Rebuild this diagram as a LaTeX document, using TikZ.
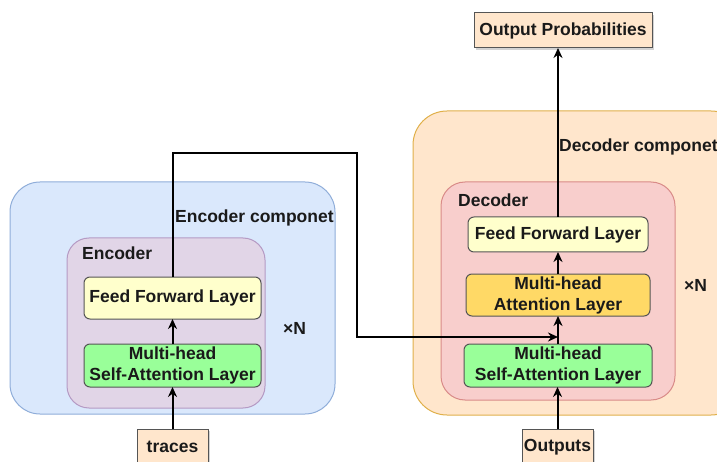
\documentclass[tikz,border=0pt]{standalone}
\usepackage{fontspec}
\setmainfont{Liberation Sans}
\usetikzlibrary{arrows.meta,shadows}
\definecolor{encfill}{HTML}{DAE8FC}
\definecolor{encline}{HTML}{8FADD9}
\definecolor{encinfill}{HTML}{E1D5E7}
\definecolor{encinline}{HTML}{B59AC4}
\definecolor{decfill}{HTML}{FFE6CC}
\definecolor{decline}{HTML}{E0B04A}
\definecolor{decinfill}{HTML}{F8CECC}
\definecolor{decinline}{HTML}{D98B88}
\definecolor{fffill}{HTML}{FFFFCC}
\definecolor{safill}{HTML}{99FF99}
\definecolor{mhafill}{HTML}{FFD966}
\definecolor{boxline}{HTML}{555555}
\definecolor{iofill}{HTML}{FFE6CC}
\definecolor{txt}{HTML}{1A1A1A}
\tikzset{
  container/.style={draw, line width=1pt, inner sep=0pt, outer sep=0pt},
  layerbox/.style={draw=boxline, line width=1pt, rounded corners=6pt, inner sep=0pt, outer sep=0pt, align=center, text=txt, font=\bfseries\fontsize{17.5}{21}\selectfont},
  iobox/.style={draw=boxline, fill=iofill, line width=1pt, inner sep=0pt, outer sep=0pt, text=txt, font=\bfseries\fontsize{17.5}{21}\selectfont, drop shadow={shadow xshift=2pt, shadow yshift=-2pt, opacity=0.35}},
  lbl/.style={inner sep=0pt, anchor=west, text=txt, font=\bfseries\fontsize{17.5}{21}\selectfont},
  flow/.style={line width=2pt, -{Stealth[length=10pt,width=9pt]}},
}
\begin{document}
\begin{tikzpicture}[x=1pt,y=-1pt]
\useasboundingbox (0,0) rectangle (717,462);
\clip (0,0) rectangle (717,462);
% containers
\node[container, draw=encline, fill=encfill, rounded corners=30pt, minimum width=325pt, minimum height=232pt] (encouter) at (172.5,298) {};
\node[container, draw=encinline, fill=encinfill, rounded corners=22pt, minimum width=198pt, minimum height=170pt] (encinner) at (166,323) {};
\node[container, draw=decline, fill=decfill, rounded corners=34pt, minimum width=332pt, minimum height=304pt] (decouter) at (579,263) {};
\node[container, draw=decinline, fill=decinfill, rounded corners=24pt, minimum width=234pt, minimum height=218pt] (decinner) at (558,291) {};
% labels
\node[lbl] (enclbl) at (82,253) {Encoder};
\node[lbl] (enccomp) at (175,218) {Encoder componet};
\node[lbl] (encN) at (283,328) {×N};
\node[lbl] (declbl) at (458,200) {Decoder};
\node[lbl] (deccomp) at (559,147) {Decoder componet};
\node[lbl] (decN) at (684,285) {×N};
% encoder layers
\node[layerbox, fill=fffill, minimum width=177pt, minimum height=42pt] (encff) at (172.5,298) {Feed Forward Layer};
\node[layerbox, fill=safill, minimum width=177pt, minimum height=43pt] (encsa) at (172.5,365.5) {Multi-head\\Self-Attention Layer};
\node[iobox, minimum width=71pt, minimum height=36pt] (traces) at (172.5,447) {traces};
% decoder layers
\node[layerbox, fill=fffill, minimum width=180pt, minimum height=35pt] (decff) at (558,234.5) {Feed Forward Layer};
\node[layerbox, fill=mhafill, minimum width=184pt, minimum height=42pt] (decmha) at (558,295) {Multi-head\\Attention Layer};
\node[layerbox, fill=safill, minimum width=188pt, minimum height=43pt] (decsa) at (558,365.5) {Multi-head\\Self-Attention Layer};
\node[iobox, minimum width=71pt, minimum height=36pt] (outputs) at (557.5,447) {Outputs};
\node[iobox, minimum width=178pt, minimum height=35pt] (outprob) at (563,30.5) {Output Probabilities};
% connectors
\coordinate (turn) at (357,153);
\coordinate (join) at (558,337);
\draw[flow] (traces.north) -- (encsa.south);
\draw[flow] (encsa.north) -- (encff.south);
\draw[flow] (encff.north) |- (turn) |- (join);
\draw[flow] (outputs.north) -- (outputs.north |- decsa.south);
\draw[flow] (decsa.north) -- (decmha.south);
\draw[flow] (decmha.north) -- (decff.south);
\draw[flow] (decff.north) -- (decff.north |- outprob.south);
\end{tikzpicture}
\end{document}
